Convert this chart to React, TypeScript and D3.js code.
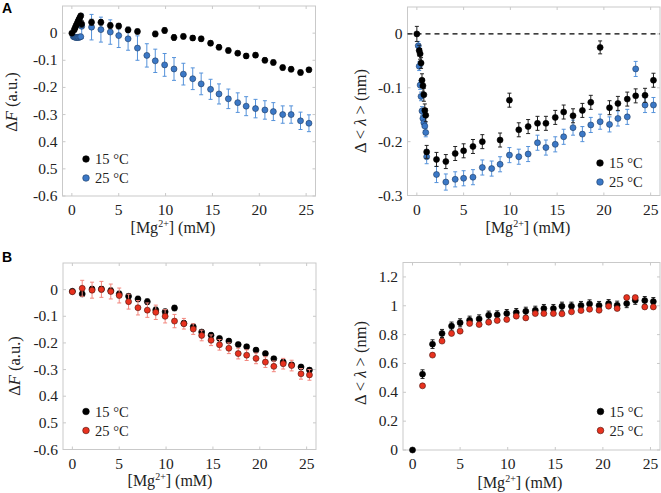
import * as d3 from 'd3'

// ─── Data ─────────────────────────────────────────────────────────────────────

// Panel A: fine titration below 1 mM, then ~1 mM steps (15 °C has no 8 mM point)
const xA15 = [0, 0.25, 0.35, 0.45, 0.55, 0.65, 0.75, 0.85, 0.95, 1.05, 2.1, 3.1, 4.1, 5.0, 6.0, 7.0,
  8.9, 9.9, 10.9, 11.9, 12.9, 13.8, 14.8, 15.7, 16.7, 17.7, 18.6, 19.6, 20.6, 21.5, 22.5, 23.4, 24.4, 25.3]
const xA25 = [0.15, 0.25, 0.35, 0.45, 0.55, 0.65, 0.75, 0.85, 0.95, 1.05, 2.1, 3.1, 4.1, 5.0, 6.0, 7.0, 8.0,
  8.9, 9.9, 10.9, 11.9, 12.9, 13.8, 14.8, 15.7, 16.7, 17.7, 18.6, 19.6, 20.6, 21.5, 22.5, 23.4, 24.4, 25.3]

const aF15 = [0, 0.012, 0.02, 0.028, 0.035, 0.043, 0.05, 0.057, 0.064, 0.034, 0.04, 0.04, 0.028, 0.026, 0.012, 0.006,
  -0.003, 0.01, -0.016, -0.012, -0.018, -0.021, -0.037, -0.052, -0.064, -0.074, -0.084, -0.081, -0.1, -0.108, -0.127, -0.133, -0.145, -0.135]
const aF15Err = [0.004, 0.004, 0.004, 0.004, 0.004, 0.004, 0.004, 0.004, 0.004, 0.012, 0.011, 0.01, 0.01, 0.01, 0.01, 0.009,
  0.01, 0.01, 0.01, 0.009, 0.009, 0.009, 0.009, 0.009, 0.009, 0.008, 0.009, 0.009, 0.009, 0.009, 0.009, 0.009, 0.009, 0.008]
const aF25 = [-0.012, -0.014, -0.015, -0.016, -0.016, -0.015, -0.016, -0.014, -0.013, 0.025, 0.022, 0.013, 0.004, -0.009, -0.021, -0.055, -0.082,
  -0.102, -0.117, -0.132, -0.151, -0.168, -0.187, -0.207, -0.224, -0.242, -0.256, -0.269, -0.278, -0.283, -0.289, -0.3, -0.3, -0.323, -0.332]
const aF25Err = [0.005, 0.005, 0.005, 0.005, 0.005, 0.005, 0.005, 0.005, 0.005, 0.045, 0.047, 0.046, 0.045, 0.044, 0.042, 0.045, 0.043,
  0.043, 0.042, 0.042, 0.04, 0.04, 0.04, 0.037, 0.037, 0.036, 0.036, 0.035, 0.034, 0.034, 0.033, 0.032, 0.032, 0.032, 0.031]

const aL15 = [0, -0.031, -0.037, -0.054, -0.086, -0.096, -0.113, -0.142, -0.151, -0.219, -0.233, -0.237, -0.222, -0.217, -0.209, -0.2,
  -0.197, -0.123, -0.178, -0.172, -0.166, -0.166, -0.155, -0.145, -0.152, -0.142, -0.127, -0.025, -0.137, -0.129, -0.121, -0.115, -0.114, -0.086]
const aL15Err = [0.014, 0.01, 0.01, 0.01, 0.012, 0.012, 0.012, 0.012, 0.012, 0.012, 0.013, 0.013, 0.013, 0.013, 0.013, 0.013,
  0.013, 0.013, 0.013, 0.013, 0.013, 0.013, 0.013, 0.013, 0.013, 0.013, 0.013, 0.012, 0.013, 0.013, 0.013, 0.013, 0.013, 0.013]
const aL25 = [-0.022, -0.06, -0.095, -0.116, -0.143, -0.157, -0.165, -0.171, -0.183, -0.228, -0.261, -0.275, -0.27, -0.268, -0.266, -0.248, -0.25,
  -0.242, -0.225, -0.228, -0.223, -0.202, -0.211, -0.205, -0.191, -0.174, -0.186, -0.169, -0.163, -0.168, -0.157, -0.154, -0.065, -0.132, -0.132]
const aL25Err = [0.008, 0.008, 0.008, 0.008, 0.008, 0.008, 0.008, 0.008, 0.008, 0.013, 0.015, 0.015, 0.014, 0.014, 0.014, 0.014, 0.014,
  0.014, 0.014, 0.014, 0.014, 0.014, 0.014, 0.014, 0.014, 0.014, 0.014, 0.014, 0.014, 0.014, 0.014, 0.014, 0.014, 0.014, 0.014]

// Panel B: one grid for both temperatures
const xB = [0, 1.05, 2.1, 3.1, 4.1, 5.0, 6.0, 7.0, 8.0, 8.9, 9.9, 10.9, 11.9, 12.9, 13.8, 14.8, 15.7, 16.7, 17.7,
  18.6, 19.6, 20.6, 21.5, 22.5, 23.4, 24.4, 25.3]

const bF15 = [-0.006, -0.016, 0.002, 0.002, -0.004, -0.016, -0.025, -0.035, -0.045, -0.076, -0.083, -0.069, -0.126, -0.139,
  -0.159, -0.171, -0.183, -0.193, -0.206, -0.214, -0.227, -0.24, -0.259, -0.272, -0.282, -0.29, -0.302]
const bF15Err = [0.005, 0.01, 0.01, 0.01, 0.01, 0.01, 0.01, 0.01, 0.01, 0.01, 0.01, 0.01, 0.009, 0.009,
  0.009, 0.009, 0.008, 0.008, 0.008, 0.008, 0.008, 0.008, 0.008, 0.008, 0.008, 0.008, 0.008]
const bF25 = [-0.008, 0.005, -0.002, 0.001, -0.007, -0.022, -0.045, -0.068, -0.077, -0.085, -0.1, -0.118, -0.128, -0.148,
  -0.172, -0.19, -0.207, -0.22, -0.24, -0.246, -0.258, -0.272, -0.288, -0.278, -0.285, -0.316, -0.32]
const bF25Err = [0.005, 0.03, 0.03, 0.03, 0.028, 0.028, 0.028, 0.027, 0.027, 0.027, 0.025, 0.025, 0.02, 0.02,
  0.02, 0.02, 0.02, 0.02, 0.02, 0.02, 0.02, 0.02, 0.02, 0.02, 0.02, 0.02, 0.02]

const bL15 = [0, 0.526, 0.734, 0.808, 0.859, 0.882, 0.9, 0.909, 0.935, 0.937, 0.946, 0.953, 0.962, 0.969,
  0.981, 0.981, 0.997, 0.997, 1.002, 1.013, 1.002, 1.015, 1.004, 1.015, 1.038, 1.036, 1.029]
const bL15Err = [0.004, 0.03, 0.03, 0.028, 0.028, 0.028, 0.028, 0.028, 0.028, 0.028, 0.028, 0.028, 0.028, 0.028,
  0.028, 0.028, 0.028, 0.028, 0.028, 0.028, 0.028, 0.028, 0.028, 0.028, 0.028, 0.028, 0.028]
const bL25 = [0.445, 0.658, 0.755, 0.808, 0.824, 0.877, 0.87, 0.886, 0.898, 0.905, 0.928, 0.916, 0.946,
  0.946, 0.946, 0.944, 0.958, 0.967, 0.976, 0.969, 0.997, 0.981, 1.057, 1.057, 0.992, 0.992]
const bL25Err = [0.008, 0.008, 0.008, 0.008, 0.008, 0.008, 0.008, 0.008, 0.008, 0.008, 0.008, 0.008, 0.008,
  0.008, 0.008, 0.008, 0.008, 0.008, 0.008, 0.008, 0.008, 0.008, 0.008, 0.008, 0.008, 0.008]

const xTicks = [0, 5, 10, 15, 20, 25]
const fTicks = [0, -0.1, -0.2, -0.3, -0.4, -0.5, -0.6]
const fTickLabels = ['0', '-0.1', '-0.2', '-0.3', '0.4', '0.5', '-0.6']
const aLTicks = [0, -0.1, -0.2, -0.3]
const aLTickLabels = ['0', '-0.1', '-0.2', '-0.3']
const bLTicks = [0, 0.2, 0.4, 0.6, 0.8, 1, 1.2]
const bLTickLabels = ['0', '0.2', '0.4', '0.6', '0.8', '1', '1.2']
const legendLabels = ['15 °C', '25 °C']

// ─── Styles ───────────────────────────────────────────────────────────────────

const SERIF = '"Liberation Serif", "Times New Roman", serif'
const FRAME = '#c9c9c9'
const BLACK = { fill: '#000', stroke: '#000', bar: '#222' }
const BLUE = { fill: '#3b78c6', stroke: '#1c3a63', bar: '#5592da' }
const RED = { fill: '#e8321f', stroke: '#4a120b', bar: '#f2877e' }

// ─── Types ────────────────────────────────────────────────────────────────────

interface Series {
  x: number[]; y: number[]; err: number[]
  color: { fill: string; stroke: string; bar: string }
}

interface PanelProps {
  left: number; right: number; top: number; bottom: number
  yDomain: [number, number]
  yTicks: number[]; yTickLabels: string[]
  series: Series[]
  legend: { x: number; y: number; colors: Series['color'][] }
  yLabel: 'F' | 'L'
  yLabelPos: [number, number]
  xLabelPos: [number, number]
  zeroLine?: boolean
}

// ─── Panel ────────────────────────────────────────────────────────────────────

function Panel(p: PanelProps) {
  const x = d3.scaleLinear().domain([-1, 26]).range([p.left, p.right])
  const y = d3.scaleLinear().domain(p.yDomain).range([p.bottom, p.top])
  const tk = 3
  const r = 3.0

  return (
    <g>
      {/* frame */}
      <rect x={p.left} y={p.top} width={p.right - p.left} height={p.bottom - p.top}
        fill="none" stroke={FRAME} strokeWidth={1} />
      {xTicks.map((t) => (
        <g key={'x' + t}>
          <line x1={x(t)} x2={x(t)} y1={p.bottom} y2={p.bottom - tk} stroke={FRAME} />
          <line x1={x(t)} x2={x(t)} y1={p.top} y2={p.top + tk} stroke={FRAME} />
          <text x={x(t)} y={p.bottom + 19} textAnchor="middle" fontSize={15.5} fontFamily={SERIF} fill="#222">{t}</text>
        </g>
      ))}
      {p.yTicks.map((t, i) => (
        <g key={'y' + t}>
          <line x1={p.left} x2={p.left + tk} y1={y(t)} y2={y(t)} stroke={FRAME} />
          <line x1={p.right} x2={p.right - tk} y1={y(t)} y2={y(t)} stroke={FRAME} />
          <text x={p.left - 5} y={y(t) + 5} textAnchor="end" fontSize={15.5} fontFamily={SERIF} fill="#222">{p.yTickLabels[i]}</text>
        </g>
      ))}

      {p.zeroLine && (
        <line x1={p.left} x2={p.right} y1={y(0)} y2={y(0)} stroke="#000" strokeWidth={1.2} strokeDasharray="5,4" />
      )}

      {/* error bars then markers, series by series */}
      {p.series.map((s, si) => (
        <g key={si}>
          {s.x.map((xv, i) => {
            const cx = x(xv)
            const y1 = y(s.y[i] + s.err[i])
            const y2 = y(s.y[i] - s.err[i])
            return (
              <g key={i} stroke={s.color.bar} strokeWidth={1}>
                <line x1={cx} x2={cx} y1={y1} y2={y2} />
                <line x1={cx - 2} x2={cx + 2} y1={y1} y2={y1} />
                <line x1={cx - 2} x2={cx + 2} y1={y2} y2={y2} />
              </g>
            )
          })}
          {s.x.map((xv, i) => (
            <circle key={'m' + i} cx={x(xv)} cy={y(s.y[i])} r={r}
              fill={s.color.fill} stroke={s.color.stroke} strokeWidth={0.6} />
          ))}
        </g>
      ))}

      {/* legend */}
      {legendLabels.map((lab, i) => (
        <g key={lab}>
          <circle cx={p.legend.x} cy={p.legend.y + i * 19} r={r + 0.3}
            fill={p.legend.colors[i].fill} stroke={p.legend.colors[i].stroke} strokeWidth={0.6} />
          <text x={p.legend.x + 9} y={p.legend.y + i * 19 + 5} fontSize={14.5} fontFamily={SERIF} fill="#222">{lab}</text>
        </g>
      ))}

      {/* axis labels */}
      <text x={p.xLabelPos[0]} y={p.xLabelPos[1]} textAnchor="middle" fontSize={16} fontFamily={SERIF} fill="#222">
        [Mg<tspan fontSize={10} dy={-6}>2+</tspan><tspan dy={6}>] (mM)</tspan>
      </text>
      <text transform={`translate(${p.yLabelPos[0]},${p.yLabelPos[1]}) rotate(-90)`} textAnchor="middle"
        fontSize={16.5} fontFamily={SERIF} fill="#222">
        {p.yLabel === 'F'
          ? <>Δ<tspan fontStyle="italic">F</tspan> (a.u.)</>
          : <>Δ &lt; <tspan fontStyle="italic">λ</tspan> &gt; (nm)</>}
      </text>
    </g>
  )
}

// ─── App ──────────────────────────────────────────────────────────────────────

export default function App() {
  return (
    <div style={{ position: 'absolute', left: 0, top: 0 }}>
      <svg width={661} height={493} style={{ display: 'block', background: '#fff' }}>
        <text x={2} y={13} fontSize={14} fontWeight="bold" fontFamily='"Liberation Sans", Arial, sans-serif'>A</text>
        <text x={2} y={262} fontSize={14} fontWeight="bold" fontFamily='"Liberation Sans", Arial, sans-serif'>B</text>

        <Panel left={62.5} right={315.5} top={6} bottom={196} yDomain={[-0.6, 0.1]}
          yTicks={fTicks} yTickLabels={fTickLabels}
          series={[
            { x: xA25, y: aF25, err: aF25Err, color: BLUE },
            { x: xA15, y: aF15, err: aF15Err, color: BLACK },
          ]}
          legend={{ x: 86, y: 159, colors: [BLACK, BLUE] }}
          yLabel="F" yLabelPos={[17, 102]} xLabelPos={[173, 233]} />

        <Panel left={407.5} right={660} top={7} bottom={195.5} yDomain={[-0.3, 0.05]}
          yTicks={aLTicks} yTickLabels={aLTickLabels}
          series={[
            { x: xA25, y: aL25, err: aL25Err, color: BLUE },
            { x: xA15, y: aL15, err: aL15Err, color: BLACK },
          ]}
          legend={{ x: 600, y: 163, colors: [BLACK, BLUE] }}
          yLabel="L" yLabelPos={[366, 111]} xLabelPos={[528, 233]} zeroLine />

        <Panel left={63} right={316} top={263} bottom={449.5} yDomain={[-0.6, 0.1]}
          yTicks={fTicks} yTickLabels={fTickLabels}
          series={[
            { x: xB, y: bF15, err: bF15Err, color: BLACK },
            { x: xB, y: bF25, err: bF25Err, color: RED },
          ]}
          legend={{ x: 86, y: 411.5, colors: [BLACK, RED] }}
          yLabel="F" yLabelPos={[20, 366]} xLabelPos={[170, 486]} />

        <Panel left={403} right={660} top={262.5} bottom={450} yDomain={[0, 1.3]}
          yTicks={bLTicks} yTickLabels={bLTickLabels}
          series={[
            { x: xB, y: bL15, err: bL15Err, color: BLACK },
            { x: xB.slice(1), y: bL25, err: bL25Err, color: RED },
          ]}
          legend={{ x: 600.5, y: 411.5, colors: [BLACK, RED] }}
          yLabel="L" yLabelPos={[366, 363]} xLabelPos={[520, 488]} />
      </svg>
    </div>
  )
}
